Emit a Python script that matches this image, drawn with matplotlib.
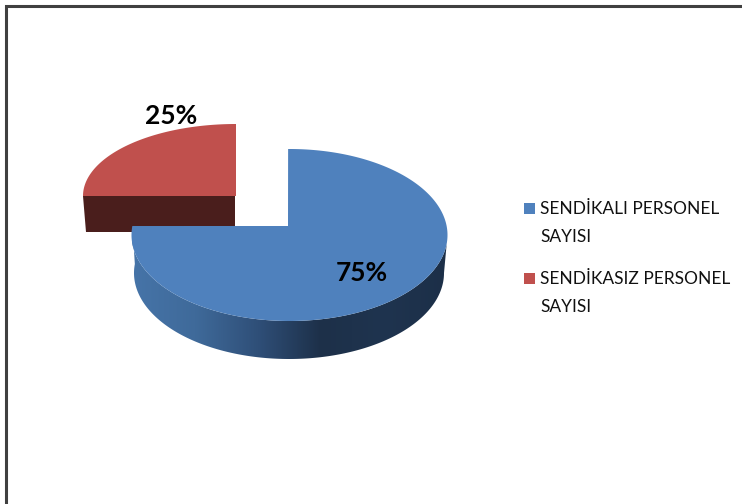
import numpy as np
import matplotlib
matplotlib.use("Agg")
import matplotlib.pyplot as plt
from matplotlib.colors import LinearSegmentedColormap
from matplotlib.patches import Polygon, Rectangle

categories = ["SENDİKALI PERSONEL\nSAYISI", "SENDİKASIZ PERSONEL\nSAYISI"]
shares = [75, 25]
labels = ["75%", "25%"]
colors = ["#4F81BD", "#C0504D"]

plt.rcParams["font.family"] = ["Lato", "DejaVu Sans"]

fig = plt.figure(figsize=(7.42, 5.04), dpi=100)
ax = fig.add_axes([0, 0, 1, 1])
ax.set_xlim(0, 742)
ax.set_ylim(504, 0)
ax.axis("off")


def arc(cx, cy, rx, ry, start, end):
    # angles in degrees, clockwise from the top of the pie
    t = np.radians(np.linspace(start, end, 300))
    return np.column_stack([cx + rx * np.sin(t), cy - ry * np.cos(t)])


# Marc
ax.plot([5.5, 5.5, 742], [504, 6, 6], color="#404040", lw=2.2, solid_joinstyle="miter")

# Porció vermella (separada)
red_start = 360 * shares[0] / 100
red_end = red_start + 360 * shares[1] / 100
red_top = arc(236, 196, 153, 72, red_start, red_end)
depth = 36
ax.add_patch(Polygon([(83, 196), (235, 196), (235, 196 + depth), (86, 196 + depth)],
                     closed=True, fc="#4A1E1C", ec="none", zorder=1))
ax.add_patch(Polygon(np.vstack([[[236, 196]], red_top]), closed=True,
                     fc=colors[1], ec="none", zorder=2))

# Porció blava
cx, cy, rx, ry = 289.5, 235, 158, 86
depth = 38
blue_end = 360 * shares[0] / 100 + 6
side_top = arc(cx, cy, rx, ry, 90, blue_end)
side_bottom = arc(cx - 0.5, cy + depth, rx - 3, ry, 90, blue_end)
side = Polygon(np.vstack([side_top, side_bottom[::-1]]), closed=True,
               fc="none", ec="none", zorder=3)
ax.add_patch(side)
cmap = LinearSegmentedColormap.from_list(
    "costat", ["#4674A8", "#3F6A9A", "#2F4F78", "#1D3049", "#1F344F", "#1C2F48"])
im = ax.imshow(np.linspace(0, 1, 256).reshape(1, -1), cmap=cmap, aspect="auto",
               extent=(132, 447, 370, 220), zorder=3)
im.set_clip_path(side)
ax.set_xlim(0, 742)
ax.set_ylim(504, 0)

blue_top = arc(cx, cy, rx, ry, -0.5, blue_end)
ax.add_patch(Polygon(np.vstack([[[288, 226]], blue_top]), closed=True,
                     fc=colors[0], ec="none", zorder=4))

# Etiquetes
ax.text(362, 273, labels[0], fontsize=19, fontweight="bold", ha="center", va="center",
        color="black", zorder=5)
ax.text(171.5, 116, labels[1], fontsize=19, fontweight="bold", ha="center", va="center",
        color="black", zorder=5)

# Llegenda
for name, color, y in zip(categories, colors, [208, 278]):
    ax.add_patch(Rectangle((523.5, y - 5.5), 11, 11, fc=color, ec="none"))
    ax.text(540, y - 7, name, fontsize=12.5, color="#111111", va="top", ha="left",
            linespacing=1.95)

plt.savefig("out.png", dpi=100)
plt.close(fig)
